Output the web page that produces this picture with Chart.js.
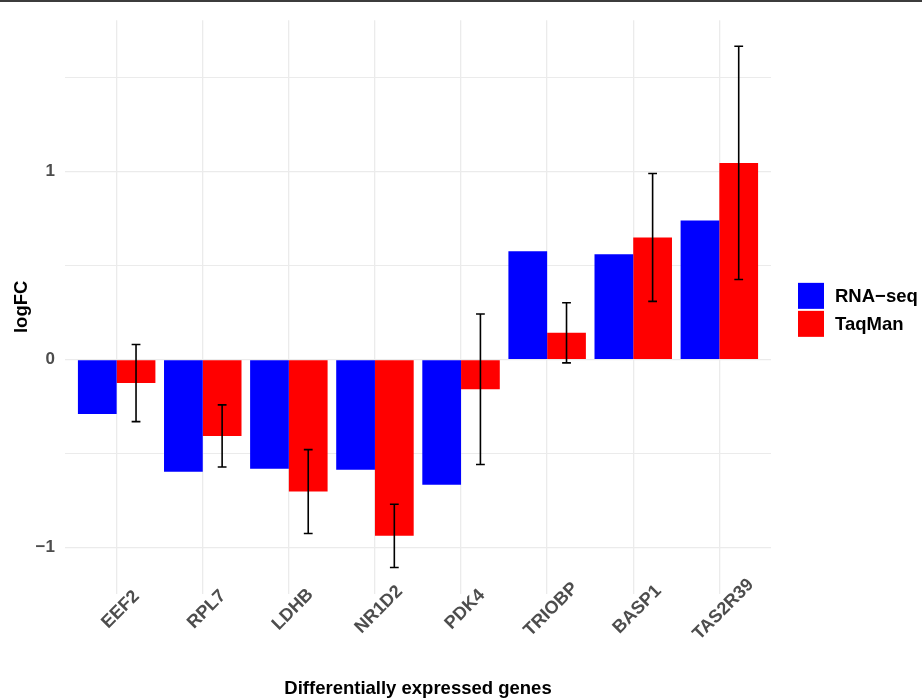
<!DOCTYPE html>
<html>
<head>
<meta charset="utf-8">
<title>logFC of differentially expressed genes</title>
<script src="https://cdn.jsdelivr.net/npm/chart.js@4"></script>
<style>
  html, body { margin: 0; padding: 0; background: #ffffff; }
  canvas { display: block; }
</style>
</head>
<body>
<canvas id="chart" width="922" height="698"></canvas>
<script>
// Genes on the x axis
const genes = ['EEF2', 'RPL7', 'LDHB', 'NR1D2', 'PDK4', 'TRIOBP', 'BASP1', 'TAS2R39'];
// log fold change measured by RNA-seq
const rnaSeq = [-0.29, -0.596, -0.58, -0.586, -0.665, 0.575, 0.559, 0.739];
// log fold change measured by TaqMan qPCR
const taqMan = [-0.125, -0.406, -0.702, -0.937, -0.158, 0.142, 0.649, 1.045];
// error of the TaqMan estimate (half length of each error bar)
const taqManErr = [0.205, 0.165, 0.223, 0.168, 0.40, 0.16, 0.34, 0.62];
// legend labels
const seriesNames = ['RNA\u2212seq', 'TaqMan'];
// y grid positions; whole numbers are labelled
const yTicks = [-1, -0.5, 0, 0.5, 1, 1.5];

const FONT = "'Liberation Sans', Arial, Helvetica, sans-serif";
const TICK_GREY = '#4D4D4D';
const GRID = '#EBEBEB';
const COLORS = ['#0000FF', '#FF0000'];

// y range: data extent (bars and error bars) widened by 5% on both sides
const lows = rnaSeq.concat(taqMan.map((v, i) => v - taqManErr[i]), [0]);
const highs = rnaSeq.concat(taqMan.map((v, i) => v + taqManErr[i]), [0]);
const yLo = Math.min(...lows), yHi = Math.max(...highs);
const yPad = (yHi - yLo) * 0.05;

const fmt = v => (v < 0 ? '\u2212' : '') + Math.abs(v);

// Error bars on the TaqMan bars
const errorBars = {
  id: 'errorBars',
  afterDatasetsDraw(chart) {
    const ctx = chart.ctx;
    const y = chart.scales.y;
    const meta = chart.getDatasetMeta(1);
    ctx.save();
    ctx.strokeStyle = '#000000';
    ctx.lineWidth = 1.6;
    meta.data.forEach((bar, i) => {
      const cx = bar.x;
      const top = y.getPixelForValue(taqMan[i] + taqManErr[i]);
      const bot = y.getPixelForValue(taqMan[i] - taqManErr[i]);
      const w = 4.4;
      ctx.beginPath();
      ctx.moveTo(cx, top); ctx.lineTo(cx, bot);
      ctx.moveTo(cx - w, top); ctx.lineTo(cx + w, top);
      ctx.moveTo(cx - w, bot); ctx.lineTo(cx + w, bot);
      ctx.stroke();
    });
    ctx.restore();
  }
};

// Slanted gene names, the legend and the frame line at the top
const decorations = {
  id: 'decorations',
  afterDraw(chart) {
    const ctx = chart.ctx;
    const x = chart.scales.x;
    const area = chart.chartArea;
    ctx.save();

    // gene names, rotated 45 degrees and centred under each group
    ctx.fillStyle = TICK_GREY;
    ctx.font = 'bold 18px ' + FONT;
    ctx.textAlign = 'center';
    ctx.textBaseline = 'middle';
    genes.forEach((g, i) => {
      ctx.save();
      ctx.translate(x.getPixelForValue(i) + 4, area.bottom + 16);
      ctx.rotate(-Math.PI / 4);
      ctx.fillText(g, 0, 0);
      ctx.restore();
    });

    // legend
    const lx = area.right + 27;
    const ly = (area.top + area.bottom) / 2 - 24;
    const key = 26, gap = 2;
    ctx.font = 'bold 18.5px ' + FONT;
    ctx.textAlign = 'left';
    seriesNames.forEach((name, i) => {
      const ky = ly + i * (key + gap);
      ctx.fillStyle = COLORS[i];
      ctx.fillRect(lx, ky, key, key);
      ctx.fillStyle = '#000000';
      ctx.fillText(name, lx + key + 11, ky + key / 2 + 1);
    });

    // frame line along the top edge
    ctx.fillStyle = '#3C3C3C';
    ctx.fillRect(0, 0, chart.width, 2);
    ctx.restore();
  }
};

new Chart(document.getElementById('chart'), {
  type: 'bar',
  data: {
    datasets: [
      {
        label: seriesNames[0],
        data: rnaSeq.map((v, i) => ({ x: i, y: v })),
        backgroundColor: COLORS[0],
        borderWidth: 0
      },
      {
        label: seriesNames[1],
        data: taqMan.map((v, i) => ({ x: i, y: v })),
        backgroundColor: COLORS[1],
        borderWidth: 0
      }
    ]
  },
  options: {
    responsive: false,
    devicePixelRatio: 1,
    animation: false,
    categoryPercentage: 0.9,
    barPercentage: 1.0,
    layout: { padding: { top: 16.5, right: 151, bottom: 0, left: 0 } },
    plugins: {
      legend: { display: false },
      tooltip: { enabled: false }
    },
    scales: {
      x: {
        type: 'linear',
        offset: false,
        min: -0.6,
        max: genes.length - 1 + 0.6,
        afterBuildTicks: s => { s.ticks = genes.map((_, i) => ({ value: i })); },
        afterFit: s => { s.height = 104.5; },
        ticks: { display: false },
        grid: { color: GRID, lineWidth: 1.3, drawTicks: false, offset: false },
        border: { display: false },
        title: {
          display: true,
          text: 'Differentially expressed genes',
          color: '#000000',
          font: { family: FONT, size: 18.5, weight: 'bold', lineHeight: 1 },
          padding: { top: 0, bottom: 0 }
        }
      },
      y: {
        min: yLo - yPad,
        max: yHi + yPad,
        afterBuildTicks: s => { s.ticks = yTicks.map(v => ({ value: v })); },
        afterFit: s => { s.width = 65; },
        ticks: {
          padding: 10,
          color: TICK_GREY,
          font: { family: FONT, size: 17, weight: 'bold' },
          callback: v => (Number.isInteger(v) ? fmt(v) : '')
        },
        grid: {
          color: GRID,
          lineWidth: ctx => (ctx.tick && Number.isInteger(ctx.tick.value) ? 1.3 : 1.0),
          drawTicks: false
        },
        border: { display: false },
        title: {
          display: true,
          text: 'logFC',
          color: '#000000',
          font: { family: FONT, size: 18.5, weight: 'bold', lineHeight: 1 },
          padding: { top: 13, bottom: 0 }
        }
      }
    }
  },
  plugins: [errorBars, decorations]
});
</script>
</body>
</html>
